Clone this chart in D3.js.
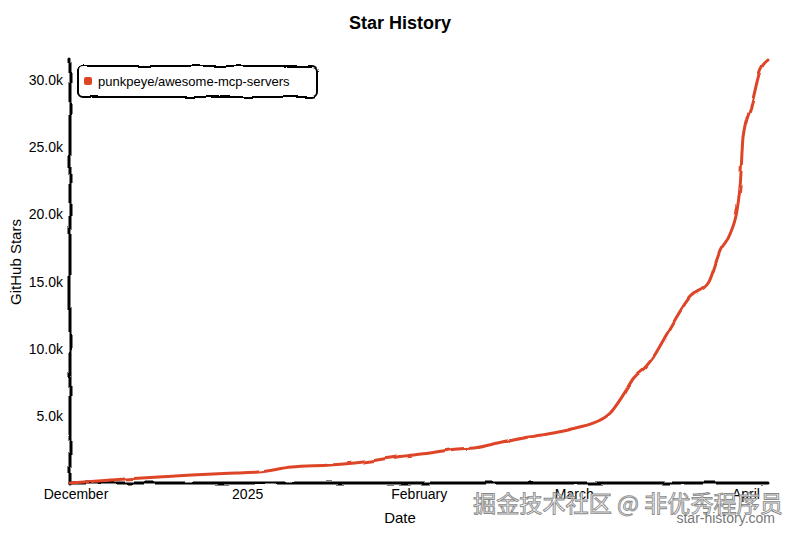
<!DOCTYPE html>
<html>
<head>
<meta charset="utf-8">
<script src="https://cdn.jsdelivr.net/npm/d3@7"></script>
<style>
  html, body { margin: 0; padding: 0; background: #fff; }
  svg { display: block; font-family: "Liberation Sans", Arial, Helvetica, sans-serif; }
</style>
</head>
<body>
<svg id="chart" width="800" height="533"></svg>
<script>
// ---- data ----
const chartTitle = "Star History";
const repoName = "punkpeye/awesome-mcp-servers";
const dates = [
  "2024-11-30T00:00", "2024-12-10T00:00", "2024-12-22T00:00", "2024-12-30T00:00",
  "2025-01-03T00:00", "2025-01-09T00:00", "2025-01-16T00:00", "2025-01-22T00:00",
  "2025-01-28T00:00", "2025-02-03T00:00", "2025-02-08T00:00", "2025-02-11T00:00",
  "2025-02-16T00:00", "2025-02-21T00:00", "2025-02-27T00:00", "2025-03-02T00:00",
  "2025-03-04T00:00", "2025-03-07T14:00", "2025-03-10T00:00", "2025-03-11T19:00",
  "2025-03-13T21:00", "2025-03-15T10:00", "2025-03-17T22:00", "2025-03-22T00:00",
  "2025-03-25T07:00", "2025-03-27T12:00", "2025-03-29T07:00", "2025-03-30T14:00",
  "2025-03-31T02:00", "2025-03-31T14:00", "2025-04-02T05:00", "2025-04-03T17:00",
  "2025-04-05T02:00"
];
const stars = [
  0, 300, 600, 750,
  820, 1190, 1340, 1560,
  1940, 2230, 2530, 2610,
  3050, 3430, 3870, 4170,
  4390, 5210, 6600, 7800,
  8600, 9400, 11170, 13850,
  14890, 17350, 18600, 20550,
  22300, 25800, 28300, 30750,
  31500
];
const xTickDates = ["2024-12-01", "2025-01-01", "2025-02-01", "2025-03-01", "2025-04-01"];
const xTickLabels = ["December", "2025", "February", "March", "April"];
const yTickValues = [5000, 10000, 15000, 20000, 25000, 30000];
const yTickLabels = ["5.0k", "10.0k", "15.0k", "20.0k", "25.0k", "30.0k"];

// ---- drawing ----
const svg = d3.select("#chart");
const parse = d3.isoParse;
const data = dates.map((d, i) => ({ date: parse(d), value: stars[i] }));

const defs = svg.append("defs");
function makeFilter(id, scale) {
  const f = defs.append("filter")
    .attr("id", id)
    .attr("filterUnits", "userSpaceOnUse")
    .attr("x", -10).attr("y", -10).attr("width", 820).attr("height", 553);
  f.append("feTurbulence").attr("type", "fractalNoise").attr("baseFrequency", 0.05).attr("result", "noise");
  f.append("feDisplacementMap").attr("scale", scale).attr("xChannelSelector", "R").attr("yChannelSelector", "G")
    .attr("in", "SourceGraphic").attr("in2", "noise");
}
makeFilter("xkcdify", 4);
makeFilter("xkcdifySoft", 3);

const plotLeft = 70, plotRight = 768, plotTop = 60, plotBottom = 483;
const x = d3.scaleTime()
  .domain([parse("2024-11-30T00:00"), parse("2025-04-05T02:00")])
  .range([plotLeft, plotRight]);
const y = d3.scaleLinear().domain([0, 31500]).range([plotBottom, plotTop]);

// title
svg.append("text")
  .attr("x", 400).attr("y", 29)
  .attr("text-anchor", "middle")
  .attr("font-size", 18).attr("font-weight", "bold")
  .text(chartTitle);

// axes
const xAxis = d3.axisBottom(x)
  .tickValues(xTickDates.map(d => parse(d)))
  .tickFormat((d, i) => xTickLabels[i])
  .tickSize(0).tickPadding(6);
const gx = svg.append("g").attr("transform", `translate(0,${plotBottom})`).call(xAxis);
gx.select(".domain").remove();
gx.selectAll("text").attr("font-size", 14).attr("fill", "#000").attr("font-family", "Liberation Sans, Arial, sans-serif");

const yAxis = d3.axisLeft(y)
  .tickValues(yTickValues)
  .tickFormat((d, i) => yTickLabels[i])
  .tickSize(0).tickPadding(7);
const gy = svg.append("g").attr("transform", `translate(${plotLeft},0)`).call(yAxis);
gy.select(".domain").remove();
gy.selectAll("text").attr("font-size", 14).attr("fill", "#000").attr("font-family", "Liberation Sans, Arial, sans-serif");

// axis lines (hand-drawn)
const axisG = svg.append("g").attr("filter", "url(#xkcdify)");
axisG.append("line").attr("x1", plotLeft).attr("x2", plotLeft).attr("y1", plotTop - 2).attr("y2", plotBottom + 1)
  .attr("stroke", "#000").attr("stroke-width", 3).attr("stroke-linecap", "round");
axisG.append("line").attr("x1", plotLeft).attr("x2", plotRight).attr("y1", plotBottom).attr("y2", plotBottom)
  .attr("stroke", "#000").attr("stroke-width", 3).attr("stroke-linecap", "round");

// axis titles
svg.append("text").attr("x", 400).attr("y", 523).attr("text-anchor", "middle")
  .attr("font-size", 15).text("Date");
svg.append("text").attr("transform", "translate(21,262) rotate(-90)").attr("text-anchor", "middle")
  .attr("font-size", 15).text("GitHub Stars");

// data line
const line = d3.line().x(d => x(d.date)).y(d => y(d.value)).curve(d3.curveMonotoneX);
svg.append("path").datum(data)
  .attr("d", line)
  .attr("fill", "none").attr("stroke", "#dd4528").attr("stroke-width", 3)
  .attr("stroke-linecap", "round").attr("stroke-linejoin", "round")
  .attr("filter", "url(#xkcdifySoft)");

// legend
const lg = svg.append("g");
lg.append("rect").attr("x", 78).attr("y", 66).attr("width", 239).attr("height", 31).attr("rx", 5)
  .attr("fill", "#fff").attr("stroke", "#000").attr("stroke-width", 2).attr("filter", "url(#xkcdify)");
lg.append("rect").attr("x", 85).attr("y", 77).attr("width", 8).attr("height", 8).attr("rx", 2)
  .attr("fill", "#dd4528").attr("filter", "url(#xkcdify)");
lg.append("text").attr("x", 98).attr("y", 86).attr("font-size", 13).text(repoName);

// watermarks
svg.append("text").attr("x", 783).attr("y", 512).attr("text-anchor", "end")
  .attr("font-family", "Noto Sans CJK SC, sans-serif").attr("font-size", 23)
  .attr("textLength", 310).attr("lengthAdjust", "spacingAndGlyphs")
  .attr("fill", "#fff").attr("stroke", "#8a8a8a").attr("stroke-width", 0.9)
  .text("掘金技术社区 @ 非优秀程序员");
svg.append("text").attr("x", 775).attr("y", 523).attr("text-anchor", "end")
  .attr("font-size", 14).attr("fill", "#777").text("star-history.com");
</script>
</body>
</html>
